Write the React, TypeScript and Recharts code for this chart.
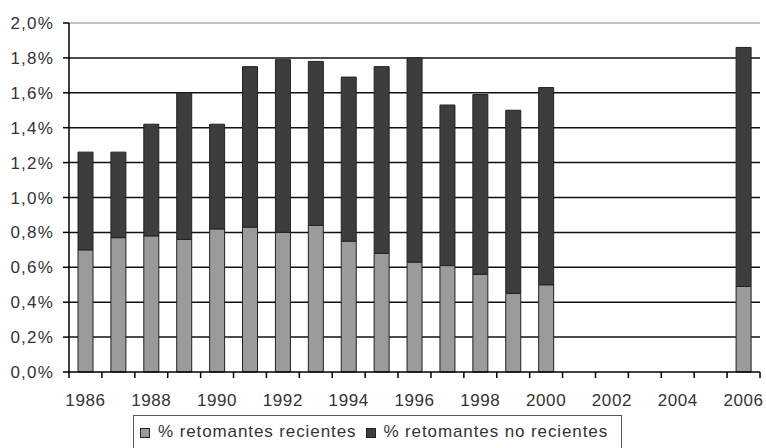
import React from 'react';
import { BarChart, Bar, XAxis, YAxis, CartesianGrid, Legend, ReferenceLine } from 'recharts';

// share of returning students per year (in %), stacked
const years = [
  '1986', '1987', '1988', '1989', '1990', '1991', '1992', '1993', '1994', '1995', '1996',
  '1997', '1998', '1999', '2000', '2001', '2002', '2003', '2004', '2005', '2006',
];
const recientes = [
  0.70, 0.77, 0.78, 0.76, 0.82, 0.83, 0.80, 0.84, 0.75, 0.68, 0.63,
  0.61, 0.56, 0.45, 0.50, null, null, null, null, null, 0.49,
];
const noRecientes = [
  0.56, 0.49, 0.64, 0.84, 0.60, 0.92, 0.99, 0.94, 0.94, 1.07, 1.17,
  0.92, 1.03, 1.05, 1.13, null, null, null, null, null, 1.37,
];
const yTicks = [0, 0.2, 0.4, 0.6, 0.8, 1.0, 1.2, 1.4, 1.6, 1.8, 2.0];

const data = years.map((year, i) => ({
  year,
  recientes: recientes[i],
  noRecientes: noRecientes[i],
}));

const FONT = '"Liberation Sans", Arial, sans-serif';
const LIGHT = '#9b9b9b';
const DARK = '#3d3d3d';

const pct = (v: number) => v.toFixed(1).replace('.', ',') + '%';

// tick marks sit on category boundaries, labels only on even years
const YearTick = (props: any) => {
  const { x, y, payload, index } = props;
  const half = payload.offset || 16.45;
  const show = Number(payload.value) % 2 === 0;
  return (
    <g>
      <line x1={x - half} x2={x - half} y1={y} y2={y + 6} stroke="#000" strokeWidth={1.5} />
      {index === years.length - 1 && (
        <line x1={x + half} x2={x + half} y1={y} y2={y + 6} stroke="#000" strokeWidth={1.5} />
      )}
      {show && (
        <text
          x={x}
          y={y + 34}
          textAnchor="middle"
          fill="#333"
          fontSize={17}
          fontFamily={FONT}
          letterSpacing={0.6}
        >
          {payload.value}
        </text>
      )}
    </g>
  );
};

const LegendBox = () => (
  <div
    style={{
      width: 489,
      height: 40,
      boxSizing: 'border-box',
      border: '1px solid #555',
      fontFamily: FONT,
      fontSize: 17,
      letterSpacing: 0.9,
      color: '#333',
      display: 'flex',
      alignItems: 'flex-start',
      paddingTop: 6,
      paddingLeft: 6,
      whiteSpace: 'nowrap',
    }}
  >
    <span style={{ display: 'inline-block', width: 8, height: 8, background: LIGHT, border: '1px solid #222', marginTop: 6 }} />
    <span style={{ marginLeft: 8 }}>% retomantes recientes</span>
    <span style={{ display: 'inline-block', width: 8, height: 8, background: DARK, border: '1px solid #222', marginTop: 6, marginLeft: 10 }} />
    <span style={{ marginLeft: 7 }}>% retomantes no recientes</span>
  </div>
);

const App: React.FC = () => {
  return (
    <div style={{ position: 'absolute', left: 0, top: 0, width: 766, height: 448, background: '#fff' }}>
      <BarChart
        width={766}
        height={448}
        data={data}
        barSize={15}
        margin={{ top: 23, right: 6, left: 0, bottom: 46 }}
      >
        <CartesianGrid
          vertical={false}
          horizontalValues={yTicks.slice(1, -1)}
          stroke="#111"
          strokeWidth={1.5}
        />
        <ReferenceLine y={2} stroke="#888" strokeWidth={1} />
        <XAxis
          dataKey="year"
          interval={0}
          height={30}
          tickSize={0}
          tickMargin={0}
          tickLine={false}
          axisLine={{ stroke: '#000', strokeWidth: 1.5 }}
          tick={<YearTick />}
        />
        <YAxis
          width={69}
          domain={[0, 2]}
          ticks={yTicks}
          interval={0}
          tickFormatter={pct}
          tickSize={6}
          tickMargin={9}
          axisLine={{ stroke: '#000', strokeWidth: 1.5 }}
          tickLine={{ stroke: '#000', strokeWidth: 1.5 }}
          tick={{ fill: '#333', fontSize: 17, fontFamily: FONT, letterSpacing: 1.2 }}
        />
        <YAxis
          yAxisId="right"
          orientation="right"
          width={0}
          domain={[0, 2]}
          ticks={yTicks}
          tick={false}
          tickSize={3}
          axisLine={{ stroke: '#888' }}
          tickLine={{ stroke: '#555' }}
        />
        <Legend
          layout="horizontal"
          verticalAlign="middle"
          align="center"
          wrapperStyle={{ top: 415, left: 133, width: 489, height: 40 }}
          content={() => <LegendBox />}
        />
        <Bar dataKey="recientes" stackId="a" fill={LIGHT} stroke="#222" strokeWidth={1} isAnimationActive={false} />
        <Bar dataKey="noRecientes" stackId="a" fill={DARK} stroke="#222" strokeWidth={1} isAnimationActive={false} />
      </BarChart>
    </div>
  );
};

export default App;
